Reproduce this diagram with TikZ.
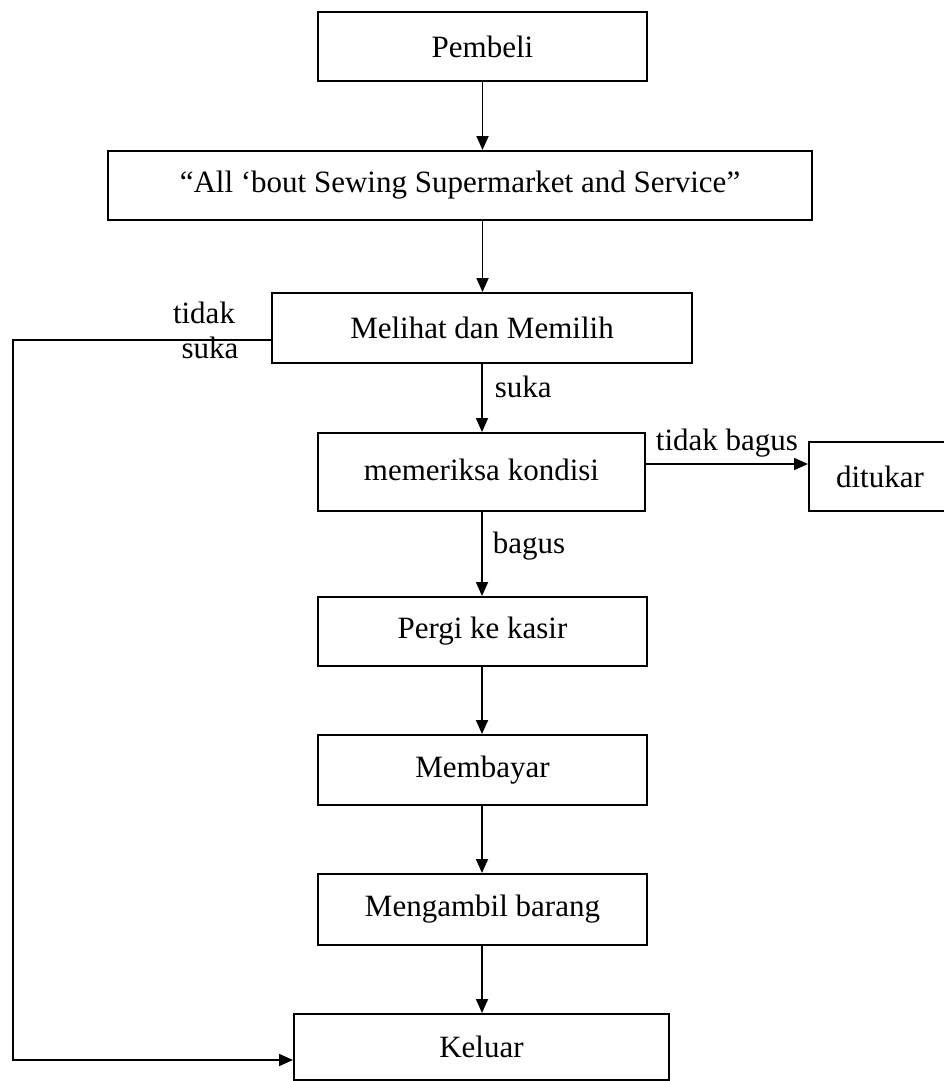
\documentclass[tikz,border=0pt]{standalone}
\usepackage{fontspec}
\setmainfont{Liberation Serif}
\usetikzlibrary{arrows.meta}
\begin{document}
\begin{tikzpicture}[x=1pt,y=-1pt,
  txt/.style={font=\fontsize{31}{37}\selectfont, inner sep=0pt},
  box/.style={txt, draw, line width=2pt, rectangle},
  conn/.style={line width=1.8pt, -{Triangle[length=14pt,width=12pt]}},
  lbl/.style={txt}]
\useasboundingbox (0,0) rectangle (944,1081);
\node[box, minimum width=329pt, minimum height=69pt] (pb) at (482.5,46.5) {Pembeli};
\node[box, minimum width=704pt, minimum height=69pt] (ab) at (460,185.5) {“All ‘bout Sewing Supermarket and Service”};
\node[box, minimum width=420pt, minimum height=70pt] (mm) at (482,328) {Melihat dan Memilih};
\node[box, minimum width=327pt, minimum height=78pt] (mk) at (481.5,472) {\raisebox{5pt}{memeriksa kondisi}};
\node[box, minimum width=142pt, minimum height=69pt] (dt) at (880,476.5) {ditukar};
\node[box, minimum width=329pt, minimum height=69pt] (pk) at (482.5,631.5) {Pergi ke kasir};
\node[box, minimum width=329pt, minimum height=70pt] (mb) at (482.5,770) {Membayar};
\node[box, minimum width=329pt, minimum height=71pt] (mg) at (482.5,909.5) {Mengambil barang};
\node[box, minimum width=375pt, minimum height=66pt] (kl) at (481.5,1047) {Keluar};

\draw[conn] (pb.south) -- (pb.south |- ab.north);
\draw[conn] (pb.south |- ab.south) -- (pb.south |- mm.north);
\draw[conn] (mm.south) -- (mm.south |- mk.north)
  node[lbl, pos=0.33, anchor=west, xshift=12pt] {suka};
\draw[conn] (mm.south |- mk.south) -- (mm.south |- pk.north)
  node[lbl, pos=0.4, anchor=west, xshift=10pt] {bagus};
\draw[conn] ([yshift=8pt]mk.east) -- ([yshift=8pt]mk.east -| dt.west)
  node[lbl, midway, anchor=base, yshift=14pt] {tidak bagus};
\draw[conn] (mm.south |- pk.south) -- (mm.south |- mb.north);
\draw[conn] (mm.south |- mb.south) -- (mm.south |- mg.north);
\draw[conn] (mm.south |- mg.south) -- (mm.south |- kl.north);
\coordinate (lc) at (13,340);
\draw[conn] ([yshift=-12pt]mm.west) -- (lc) |- ([yshift=-13pt]kl.west);
\node[lbl, anchor=base] (t1) at (204,323) {tidak};
\node[lbl, anchor=base] (t2) at (210,358) {suka};
\end{tikzpicture}
\end{document}
